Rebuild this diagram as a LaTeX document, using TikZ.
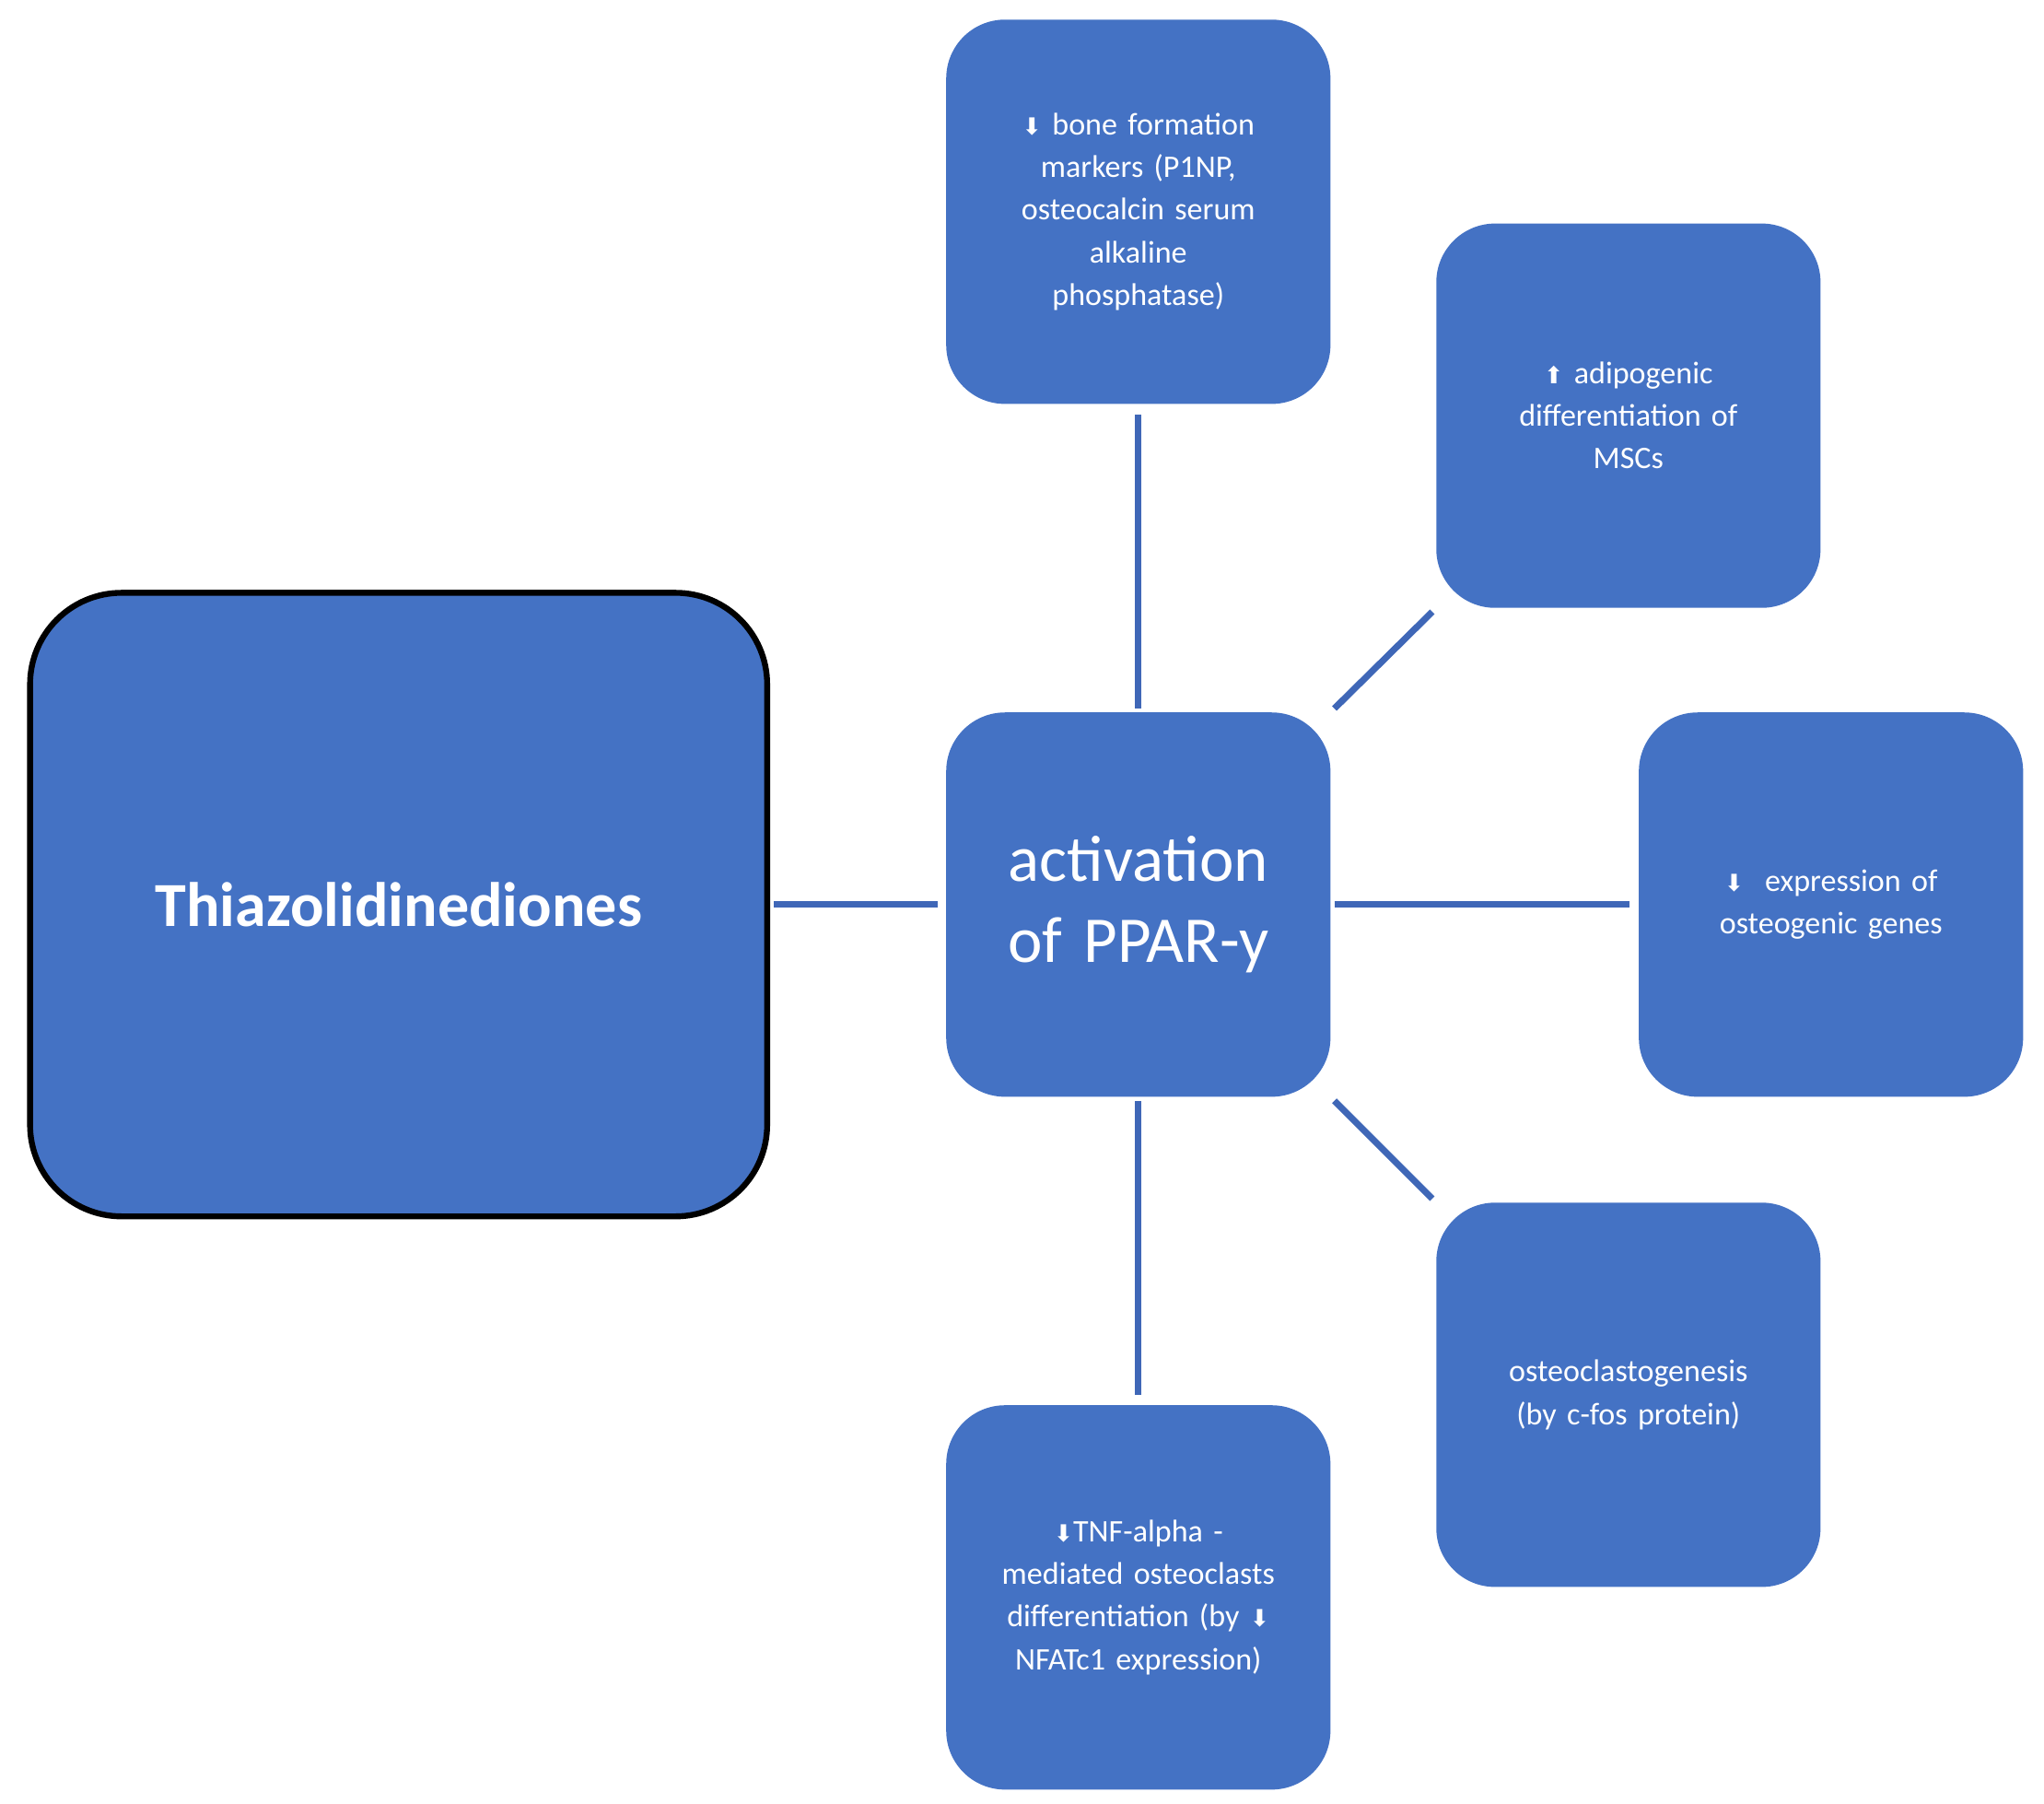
\documentclass[tikz,border=0pt]{standalone}
\usepackage{fontspec}
\setmainfont{Carlito}
\newfontfamily\symf{DejaVu Sans}
\newcommand{\dn}{{\symf\fontsize{18}{20}\selectfont ⬇}}
\newcommand{\up}{{\symf\fontsize{18}{20}\selectfont ⬆}}
\begin{document}
\begin{tikzpicture}[x=1pt,y=-1pt,
 box/.style={draw=none,fill=boxblue,rounded corners=45pt,minimum width=294pt,minimum height=294pt,text=white,align=center,font=\fontsize{24}{32.5}\selectfont,text width=230pt},
 conn/.style={draw=lineblue,line width=5pt}]
\definecolor{boxblue}{HTML}{4472C4}
\definecolor{lineblue}{HTML}{3F67B7}
\useasboundingbox (0,0) rectangle (1564,1380);
\node[box,draw=black,line width=4.5pt,minimum width=564pt,minimum height=477pt,rounded corners=70pt,text width=520pt,font=\bfseries\fontsize{48}{56}\selectfont] (th) at (305,692) {Thiazolidinediones};
\node[box,font=\fontsize{50}{62}\selectfont] (c) at (871,692) {activation\\of PPAR-y};
\node[box] (t) at (871,162) {\dn\ bone formation\\markers (P1NP,\\osteocalcin serum\\alkaline\\phosphatase)\\[70pt]};
\node[box] (tr) at (1246,318) {\up\ adipogenic\\differentiation of\\MSCs\\[45pt]};
\node[box] (r) at (1401,692) {\dn\ \ expression of\\osteogenic genes};
\node[box] (br) at (1246,1067) {osteoclastogenesis\\(by c-fos protein)};
\node[box] (b) at (871,1222) {\dn TNF-alpha -\\mediated osteoclasts\\differentiation (by \dn\\NFATc1 expression)\\[32pt]};
\draw[conn,shorten <=3pt,shorten >=6pt] (th.east) -- (c.west);
\draw[conn,shorten <=3pt,shorten >=8pt] (c.north) -- (t.south);
\draw[conn,shorten <=3pt,shorten >=8pt] (c.south) -- (b.north);
\draw[conn,shorten <=3pt,shorten >=7pt] (c.east) -- (r.west);
\draw[conn,shorten <=4pt,shorten >=4pt] (c.north east) -- (tr.south west);
\draw[conn,shorten <=4pt,shorten >=4pt] (c.south east) -- (br.north west);
\end{tikzpicture}
\end{document}
